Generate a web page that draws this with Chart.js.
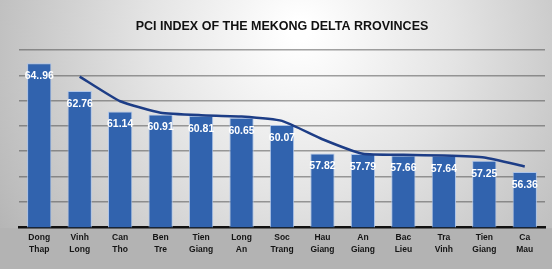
<!DOCTYPE html>
<html>
<head>
<meta charset="utf-8">
<script src="https://cdn.jsdelivr.net/npm/chart.js@4.4.1/dist/chart.umd.min.js"></script>
<style>
  html, body { margin: 0; padding: 0; background: #b0b0b0; }
  #wrap { width: 552px; height: 269px; position: relative; }
</style>
</head>
<body>
<div id="wrap"><canvas id="c" width="552" height="269"></canvas></div>
<script>
const categories = [
  ["Dong", "Thap"], ["Vinh", "Long"], ["Can", "Tho"], ["Ben", "Tre"],
  ["Tien", "Giang"], ["Long", "An"], ["Soc", "Trang"], ["Hau", "Giang"],
  ["An", "Giang"], ["Bac", "Lieu"], ["Tra", "Vinh"], ["Tien", "Giang"], ["Ca", "Mau"]
];
const pciValues = [64.96, 62.76, 61.14, 60.91, 60.81, 60.65, 60.07, 57.82, 57.79, 57.66, 57.64, 57.25, 56.36];
const pciLabels = ["64..96", "62.76", "61.14", "60.91", "60.81", "60.65", "60.07", "57.82", "57.79", "57.66", "57.64", "57.25", "56.36"];
const trendValues = [null, 63.9, 61.95, 61.05, 60.85, 60.75, 60.4, 58.95, 57.8, 57.72, 57.66, 57.5, 56.8];
const titleText = "PCI INDEX OF THE MEKONG DELTA RROVINCES";
const yMin = 52, yMax = 66, yStep = 2;

const bgPlugin = {
  id: 'bg',
  beforeDraw(chart) {
    const ctx = chart.ctx;
    const w = chart.width, h = chart.height;
    ctx.save();
    const g = ctx.createRadialGradient(300, 30, 10, 300, 60, 420);
    g.addColorStop(0, '#ffffff');
    g.addColorStop(0.35, '#e4e4e4');
    g.addColorStop(0.75, '#bdbdbd');
    g.addColorStop(1, '#a2a2a2');
    ctx.fillStyle = g;
    ctx.fillRect(0, 0, w, h);
    const ca = chart.chartArea;
    ctx.fillStyle = '#b3b3b3';
    ctx.fillRect(0, ca.bottom + 1, w, h - ca.bottom);
    ctx.restore();
  }
};

const labelPlugin = {
  id: 'barLabels',
  afterDatasetsDraw(chart) {
    const meta = chart.getDatasetMeta(1);
    const ctx = chart.ctx;
    ctx.save();
    ctx.font = 'bold 10.5px "Liberation Sans", Arial, sans-serif';
    ctx.fillStyle = '#ffffff';
    ctx.textAlign = 'center';
    ctx.textBaseline = 'middle';
    meta.data.forEach((bar, i) => {
      ctx.fillText(pciLabels[i], bar.x, bar.y + 13);
    });
    ctx.restore();
  }
};

new Chart(document.getElementById('c'), {
  data: {
    labels: categories,
    datasets: [
      {
        type: 'line',
        data: trendValues,
        borderColor: '#1d3d86',
        borderWidth: 2.5,
        pointRadius: 0,
        tension: 0.15,
        fill: false,
        order: 0
      },
      {
        type: 'bar',
        data: pciValues,
        backgroundColor: '#3163ae',
        borderColor: 'rgba(170,195,235,0.9)',
        borderWidth: 1,
        barPercentage: 0.6,
        categoryPercentage: 1,
        order: 1
      }
    ]
  },
  options: {
    responsive: false,
    animation: false,
    devicePixelRatio: 1,
    layout: { padding: { left: 19, right: 7, top: 0, bottom: 9 } },
    plugins: {
      legend: { display: false },
      tooltip: { enabled: false },
      title: {
        display: true,
        text: titleText,
        color: '#111111',
        font: { family: '"Liberation Sans", Arial, sans-serif', size: 12.5, weight: 'bold' },
        padding: { top: 19, bottom: 16 }
      }
    },
    scales: {
      x: {
        grid: { display: false, drawTicks: false },
        border: { display: true, color: '#111111', width: 2.5 },
        ticks: {
          color: '#151515',
          font: { family: '"Liberation Sans", Arial, sans-serif', size: 8.5, weight: 'bold', lineHeight: 1.46 },
          padding: 4,
          maxRotation: 0,
          autoSkip: false
        }
      },
      y: {
        min: yMin,
        max: yMax,
        ticks: { display: false, stepSize: yStep },
        grid: { color: 'rgba(70,70,70,0.5)', lineWidth: 1.5, drawTicks: false },
        border: { display: false }
      }
    }
  },
  plugins: [bgPlugin, labelPlugin]
});
</script>
</body>
</html>
